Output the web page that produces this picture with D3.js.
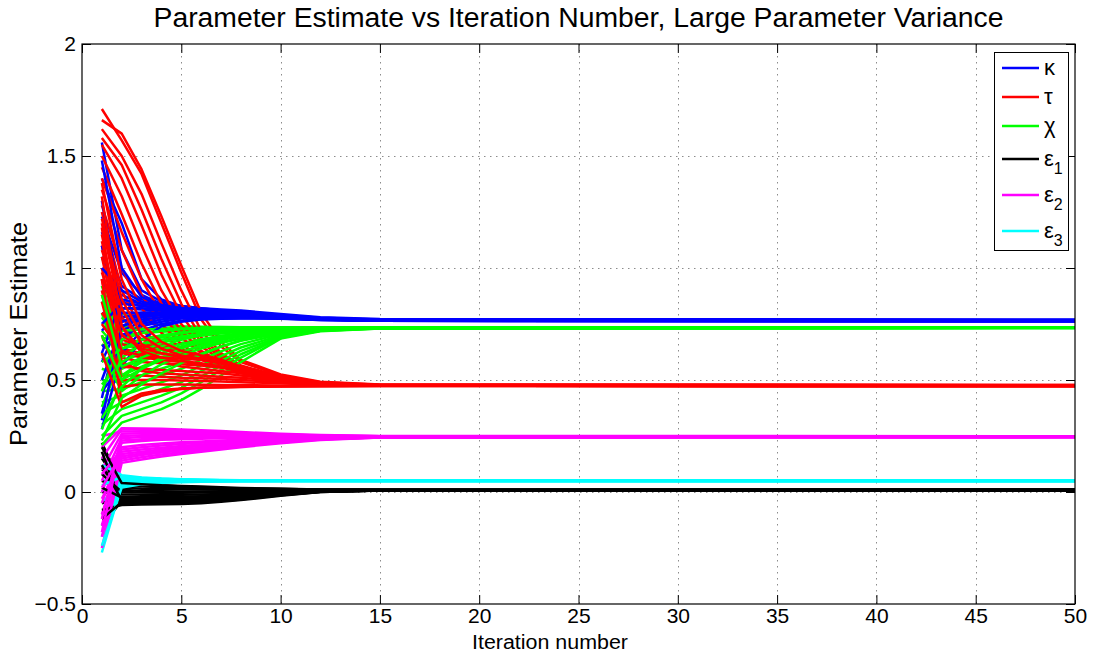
<!DOCTYPE html>
<html>
<head>
<meta charset="utf-8">
<script src="https://cdn.jsdelivr.net/npm/d3@7"></script>
<style>
  body { margin: 0; background: #fff; }
  svg text { font-family: "Liberation Sans", Arial, Helvetica, sans-serif; fill: #000; }
</style>
</head>
<body>
<svg id="chart" width="1102" height="655"></svg>
<script>
// Iterations at which each run's estimate is recorded (the estimate stays flat from 15 to 50).
const iterations = [1, 2, 3, 4, 5, 6, 7, 8, 10, 12, 15, 50];

// kappa estimates, one row per run
const kappaRuns = [
  [1.56, 1.08, 0.90, 0.85, 0.83, 0.82, 0.815, 0.81, 0.795, 0.78, 0.772, 0.770],
  [1.40, 1.20, 0.95, 0.86, 0.83, 0.82, 0.81, 0.805, 0.79, 0.778, 0.77, 0.768],
  [1.23, 0.98, 0.88, 0.84, 0.825, 0.815, 0.81, 0.80, 0.79, 0.776, 0.768, 0.767],
  [1.16, 0.92, 0.86, 0.835, 0.82, 0.81, 0.805, 0.80, 0.787, 0.775, 0.768, 0.766],
  [1.05, 0.85, 0.83, 0.82, 0.815, 0.81, 0.80, 0.795, 0.785, 0.774, 0.767, 0.766],
  [0.95, 0.78, 0.80, 0.805, 0.805, 0.80, 0.80, 0.795, 0.783, 0.773, 0.766, 0.765],
  [0.90, 0.88, 0.84, 0.825, 0.815, 0.81, 0.80, 0.795, 0.785, 0.774, 0.767, 0.765],
  [0.85, 0.72, 0.76, 0.78, 0.79, 0.79, 0.79, 0.788, 0.78, 0.772, 0.766, 0.765],
  [0.80, 0.76, 0.78, 0.79, 0.795, 0.795, 0.792, 0.79, 0.782, 0.772, 0.766, 0.764],
  [0.72, 0.82, 0.815, 0.81, 0.805, 0.80, 0.797, 0.793, 0.784, 0.773, 0.766, 0.764],
  [0.65, 0.70, 0.74, 0.76, 0.775, 0.78, 0.782, 0.782, 0.777, 0.770, 0.765, 0.764],
  [0.58, 0.78, 0.79, 0.79, 0.79, 0.79, 0.788, 0.786, 0.779, 0.771, 0.765, 0.763],
  [0.50, 0.74, 0.77, 0.78, 0.785, 0.785, 0.785, 0.784, 0.778, 0.770, 0.765, 0.763],
  [0.42, 0.80, 0.80, 0.80, 0.80, 0.798, 0.795, 0.79, 0.782, 0.772, 0.765, 0.763],
  [0.35, 0.68, 0.75, 0.77, 0.78, 0.782, 0.782, 0.781, 0.776, 0.769, 0.764, 0.762],
  [0.28, 0.62, 0.72, 0.75, 0.765, 0.772, 0.775, 0.776, 0.774, 0.768, 0.764, 0.762],
  [1.30, 0.82, 0.82, 0.815, 0.81, 0.805, 0.80, 0.797, 0.786, 0.775, 0.767, 0.766],
  [0.62, 0.86, 0.84, 0.83, 0.82, 0.815, 0.81, 0.80, 0.79, 0.776, 0.768, 0.766],
  [0.45, 0.56, 0.68, 0.74, 0.76, 0.77, 0.773, 0.775, 0.773, 0.768, 0.764, 0.762],
  [1.10, 0.76, 0.79, 0.80, 0.80, 0.80, 0.797, 0.793, 0.784, 0.774, 0.766, 0.764],
  [1.00, 0.90, 0.85, 0.83, 0.82, 0.812, 0.805, 0.80, 0.788, 0.775, 0.767, 0.766],
  [0.75, 0.84, 0.83, 0.822, 0.815, 0.808, 0.802, 0.797, 0.786, 0.774, 0.767, 0.765],
  [0.32, 0.74, 0.78, 0.79, 0.792, 0.792, 0.79, 0.787, 0.78, 0.771, 0.765, 0.763],
  [1.48, 1.00, 0.87, 0.835, 0.82, 0.812, 0.806, 0.80, 0.788, 0.776, 0.768, 0.766]
];

// tau estimates
const tauRuns = [
  [1.71, 1.57, 1.42, 1.20, 0.98, 0.77, 0.65, 0.58, 0.52, 0.49, 0.479, 0.478],
  [1.66, 1.60, 1.44, 1.23, 1.01, 0.80, 0.67, 0.59, 0.525, 0.492, 0.48, 0.478],
  [1.62, 1.50, 1.33, 1.11, 0.90, 0.72, 0.62, 0.565, 0.515, 0.488, 0.478, 0.477],
  [1.58, 1.46, 1.26, 1.04, 0.84, 0.69, 0.61, 0.56, 0.51, 0.486, 0.477, 0.476],
  [1.55, 1.40, 1.19, 0.97, 0.79, 0.67, 0.60, 0.555, 0.51, 0.485, 0.477, 0.476],
  [1.50, 1.32, 1.10, 0.90, 0.75, 0.65, 0.59, 0.55, 0.505, 0.484, 0.476, 0.475],
  [1.45, 1.24, 1.02, 0.84, 0.72, 0.63, 0.58, 0.545, 0.505, 0.483, 0.476, 0.475],
  [1.40, 1.16, 0.95, 0.79, 0.69, 0.62, 0.575, 0.54, 0.50, 0.482, 0.475, 0.474],
  [1.35, 1.08, 0.88, 0.75, 0.66, 0.60, 0.565, 0.535, 0.50, 0.481, 0.475, 0.474],
  [1.28, 1.00, 0.82, 0.71, 0.64, 0.59, 0.56, 0.53, 0.498, 0.48, 0.474, 0.474],
  [1.25, 0.90, 0.72, 0.66, 0.62, 0.60, 0.58, 0.55, 0.51, 0.485, 0.476, 0.475],
  [1.20, 0.78, 0.68, 0.65, 0.63, 0.61, 0.585, 0.555, 0.51, 0.485, 0.476, 0.475],
  [1.15, 0.70, 0.66, 0.645, 0.63, 0.615, 0.59, 0.56, 0.515, 0.487, 0.477, 0.476],
  [1.10, 0.66, 0.64, 0.635, 0.625, 0.61, 0.585, 0.555, 0.51, 0.485, 0.476, 0.475],
  [1.05, 0.64, 0.62, 0.615, 0.61, 0.60, 0.58, 0.55, 0.508, 0.484, 0.476, 0.475],
  [1.00, 0.60, 0.58, 0.575, 0.57, 0.565, 0.555, 0.54, 0.505, 0.483, 0.475, 0.474],
  [0.95, 0.56, 0.55, 0.545, 0.54, 0.535, 0.53, 0.52, 0.50, 0.481, 0.475, 0.474],
  [0.90, 0.52, 0.52, 0.515, 0.51, 0.508, 0.505, 0.50, 0.49, 0.479, 0.474, 0.473],
  [0.85, 0.50, 0.50, 0.50, 0.498, 0.495, 0.493, 0.49, 0.485, 0.478, 0.474, 0.473],
  [0.80, 0.68, 0.65, 0.64, 0.625, 0.61, 0.59, 0.56, 0.515, 0.487, 0.477, 0.476],
  [1.32, 0.74, 0.62, 0.58, 0.56, 0.55, 0.54, 0.53, 0.50, 0.482, 0.475, 0.474],
  [0.75, 0.62, 0.60, 0.59, 0.58, 0.57, 0.56, 0.545, 0.505, 0.483, 0.475, 0.474],
  [1.18, 0.58, 0.54, 0.53, 0.525, 0.52, 0.515, 0.51, 0.495, 0.48, 0.474, 0.473],
  [0.70, 0.47, 0.48, 0.48, 0.48, 0.479, 0.478, 0.477, 0.476, 0.475, 0.474, 0.473],
  [0.95, 0.40, 0.44, 0.455, 0.462, 0.466, 0.468, 0.47, 0.471, 0.472, 0.473, 0.473],
  [0.62, 0.38, 0.43, 0.45, 0.46, 0.465, 0.467, 0.469, 0.471, 0.472, 0.473, 0.472],
  [1.08, 0.82, 0.66, 0.62, 0.60, 0.59, 0.575, 0.55, 0.51, 0.485, 0.476, 0.475],
  [0.88, 0.63, 0.61, 0.60, 0.595, 0.59, 0.575, 0.55, 0.508, 0.484, 0.476, 0.475],
  [1.38, 0.95, 0.75, 0.67, 0.63, 0.61, 0.59, 0.56, 0.512, 0.486, 0.476, 0.475],
  [1.22, 0.86, 0.70, 0.64, 0.61, 0.595, 0.575, 0.55, 0.508, 0.484, 0.476, 0.475],
  [1.12, 0.74, 0.63, 0.60, 0.585, 0.575, 0.56, 0.54, 0.505, 0.483, 0.475, 0.474],
  [0.98, 0.70, 0.64, 0.62, 0.605, 0.595, 0.578, 0.555, 0.51, 0.485, 0.476, 0.475]
];

// chi estimates
const chiRuns = [
  [1.05, 0.80, 0.76, 0.745, 0.74, 0.738, 0.737, 0.736, 0.735, 0.735, 0.735, 0.735],
  [0.95, 0.74, 0.73, 0.73, 0.732, 0.733, 0.734, 0.734, 0.735, 0.735, 0.735, 0.735],
  [0.85, 0.70, 0.71, 0.715, 0.72, 0.724, 0.727, 0.729, 0.732, 0.734, 0.735, 0.734],
  [0.78, 0.66, 0.68, 0.695, 0.705, 0.713, 0.719, 0.723, 0.729, 0.732, 0.734, 0.734],
  [0.72, 0.62, 0.65, 0.67, 0.686, 0.698, 0.708, 0.715, 0.725, 0.731, 0.734, 0.734],
  [0.66, 0.58, 0.62, 0.645, 0.665, 0.682, 0.696, 0.706, 0.72, 0.729, 0.733, 0.734],
  [0.60, 0.55, 0.59, 0.62, 0.645, 0.665, 0.683, 0.697, 0.715, 0.727, 0.733, 0.733],
  [0.55, 0.52, 0.56, 0.595, 0.625, 0.65, 0.67, 0.687, 0.71, 0.725, 0.732, 0.733],
  [0.50, 0.49, 0.52, 0.55, 0.58, 0.615, 0.648, 0.675, 0.71, 0.727, 0.733, 0.733],
  [0.45, 0.46, 0.49, 0.52, 0.55, 0.59, 0.628, 0.66, 0.705, 0.725, 0.732, 0.733],
  [0.40, 0.43, 0.46, 0.49, 0.52, 0.565, 0.607, 0.645, 0.70, 0.724, 0.732, 0.733],
  [0.35, 0.40, 0.43, 0.46, 0.49, 0.54, 0.585, 0.63, 0.695, 0.722, 0.731, 0.733],
  [0.30, 0.37, 0.40, 0.43, 0.465, 0.515, 0.565, 0.615, 0.69, 0.72, 0.731, 0.732],
  [0.25, 0.34, 0.37, 0.40, 0.44, 0.49, 0.545, 0.60, 0.69, 0.72, 0.73, 0.732],
  [0.21, 0.31, 0.34, 0.37, 0.41, 0.46, 0.52, 0.58, 0.685, 0.718, 0.73, 0.732],
  [0.68, 0.72, 0.725, 0.728, 0.73, 0.732, 0.733, 0.734, 0.735, 0.736, 0.736, 0.736],
  [0.92, 0.64, 0.66, 0.68, 0.695, 0.705, 0.713, 0.72, 0.728, 0.732, 0.735, 0.735],
  [0.80, 0.52, 0.58, 0.62, 0.65, 0.672, 0.69, 0.703, 0.72, 0.73, 0.734, 0.735],
  [0.38, 0.60, 0.66, 0.69, 0.71, 0.72, 0.726, 0.73, 0.733, 0.735, 0.735, 0.735],
  [0.28, 0.50, 0.60, 0.65, 0.68, 0.70, 0.713, 0.722, 0.73, 0.734, 0.735, 0.735],
  [0.62, 0.45, 0.52, 0.57, 0.61, 0.64, 0.665, 0.685, 0.71, 0.727, 0.733, 0.734],
  [0.45, 0.68, 0.71, 0.72, 0.726, 0.73, 0.732, 0.733, 0.734, 0.735, 0.735, 0.735],
  [0.58, 0.64, 0.68, 0.70, 0.712, 0.72, 0.725, 0.728, 0.732, 0.734, 0.735, 0.735],
  [0.48, 0.58, 0.63, 0.665, 0.69, 0.705, 0.715, 0.722, 0.73, 0.733, 0.735, 0.735],
  [0.33, 0.47, 0.55, 0.60, 0.64, 0.67, 0.69, 0.705, 0.722, 0.731, 0.734, 0.735],
  [0.70, 0.50, 0.55, 0.59, 0.625, 0.655, 0.678, 0.695, 0.718, 0.729, 0.734, 0.734],
  [0.23, 0.42, 0.48, 0.53, 0.575, 0.615, 0.65, 0.677, 0.712, 0.727, 0.733, 0.734],
  [0.88, 0.56, 0.60, 0.635, 0.66, 0.68, 0.697, 0.71, 0.725, 0.732, 0.735, 0.735]
];

// epsilon_1 estimates
const eps1Runs = [
  [0.22, 0.03, 0.025, 0.022, 0.02, 0.018, 0.016, 0.015, 0.013, 0.011, 0.01, 0.01],
  [0.15, 0.02, 0.015, 0.013, 0.012, 0.011, 0.011, 0.011, 0.01, 0.01, 0.01, 0.01],
  [0.10, 0.068, 0.04, 0.03, 0.025, 0.021, 0.018, 0.016, 0.013, 0.011, 0.01, 0.01],
  [0.05, 0.01, 0.005, 0.003, 0.002, 0.002, 0.003, 0.004, 0.006, 0.008, 0.009, 0.009],
  [0.00, -0.01, -0.012, -0.012, -0.012, -0.011, -0.009, -0.007, -0.002, 0.004, 0.008, 0.009],
  [-0.05, -0.02, -0.022, -0.022, -0.021, -0.019, -0.016, -0.013, -0.005, 0.003, 0.008, 0.009],
  [-0.10, -0.03, -0.032, -0.032, -0.031, -0.029, -0.025, -0.02, -0.009, 0.002, 0.007, 0.008],
  [-0.15, -0.04, -0.042, -0.042, -0.041, -0.038, -0.033, -0.027, -0.012, 0.001, 0.007, 0.008],
  [0.18, -0.05, -0.05, -0.05, -0.049, -0.046, -0.04, -0.033, -0.015, 0.0, 0.007, 0.008],
  [-0.08, -0.058, -0.056, -0.055, -0.054, -0.05, -0.044, -0.036, -0.017, 0.0, 0.007, 0.008],
  [0.08, 0.0, -0.002, -0.003, -0.003, -0.002, -0.001, 0.0, 0.004, 0.007, 0.009, 0.009],
  [-0.12, -0.045, -0.046, -0.046, -0.045, -0.042, -0.036, -0.03, -0.013, 0.001, 0.007, 0.008],
  [0.12, -0.035, -0.037, -0.037, -0.036, -0.034, -0.03, -0.025, -0.01, 0.002, 0.008, 0.009],
  [0.02, -0.025, -0.027, -0.027, -0.026, -0.024, -0.021, -0.017, -0.007, 0.003, 0.008, 0.009],
  [0.20, 0.04, 0.035, 0.03, 0.027, 0.024, 0.021, 0.018, 0.014, 0.011, 0.01, 0.01]
];

// epsilon_2 estimates
const eps2Runs = [
  [0.20, 0.285, 0.284, 0.282, 0.279, 0.276, 0.272, 0.268, 0.26, 0.254, 0.25, 0.249],
  [0.15, 0.28, 0.278, 0.275, 0.272, 0.269, 0.266, 0.263, 0.257, 0.252, 0.249, 0.248],
  [0.10, 0.26, 0.262, 0.262, 0.261, 0.26, 0.258, 0.256, 0.253, 0.25, 0.248, 0.248],
  [0.05, 0.24, 0.245, 0.247, 0.248, 0.248, 0.248, 0.248, 0.248, 0.248, 0.248, 0.248],
  [0.00, 0.22, 0.228, 0.233, 0.236, 0.238, 0.24, 0.241, 0.243, 0.245, 0.247, 0.247],
  [-0.05, 0.20, 0.21, 0.217, 0.222, 0.226, 0.23, 0.233, 0.238, 0.242, 0.246, 0.247],
  [-0.10, 0.18, 0.19, 0.198, 0.205, 0.212, 0.218, 0.223, 0.232, 0.239, 0.245, 0.246],
  [-0.15, 0.16, 0.172, 0.182, 0.19, 0.198, 0.206, 0.213, 0.226, 0.236, 0.244, 0.246],
  [-0.20, 0.14, 0.155, 0.167, 0.177, 0.187, 0.196, 0.205, 0.221, 0.234, 0.243, 0.245],
  [-0.25, 0.13, 0.145, 0.158, 0.17, 0.18, 0.19, 0.20, 0.218, 0.232, 0.243, 0.245],
  [0.25, 0.27, 0.27, 0.268, 0.266, 0.264, 0.262, 0.26, 0.256, 0.252, 0.249, 0.248],
  [-0.03, 0.15, 0.165, 0.176, 0.185, 0.193, 0.201, 0.209, 0.223, 0.235, 0.244, 0.246],
  [0.08, 0.19, 0.20, 0.208, 0.214, 0.22, 0.225, 0.229, 0.236, 0.241, 0.245, 0.246],
  [-0.18, 0.23, 0.236, 0.24, 0.242, 0.243, 0.244, 0.245, 0.246, 0.247, 0.247, 0.247],
  [0.02, 0.17, 0.18, 0.19, 0.198, 0.205, 0.212, 0.218, 0.229, 0.238, 0.244, 0.246],
  [-0.12, 0.25, 0.253, 0.254, 0.254, 0.254, 0.253, 0.252, 0.25, 0.249, 0.248, 0.247]
];

// epsilon_3 estimates
const eps3Runs = [
  [0.15, 0.07, 0.062, 0.058, 0.056, 0.054, 0.053, 0.052, 0.051, 0.05, 0.05, 0.05],
  [0.10, 0.065, 0.06, 0.057, 0.055, 0.054, 0.053, 0.052, 0.051, 0.05, 0.05, 0.05],
  [0.05, 0.06, 0.058, 0.056, 0.054, 0.053, 0.052, 0.051, 0.05, 0.05, 0.05, 0.05],
  [0.00, 0.055, 0.055, 0.054, 0.053, 0.052, 0.051, 0.051, 0.05, 0.05, 0.05, 0.049],
  [-0.05, 0.05, 0.052, 0.052, 0.052, 0.051, 0.051, 0.05, 0.05, 0.05, 0.049, 0.049],
  [-0.10, 0.045, 0.048, 0.049, 0.05, 0.05, 0.05, 0.05, 0.05, 0.049, 0.049, 0.049],
  [-0.15, 0.04, 0.045, 0.047, 0.048, 0.049, 0.049, 0.049, 0.049, 0.049, 0.049, 0.049],
  [-0.20, 0.035, 0.042, 0.045, 0.047, 0.048, 0.048, 0.049, 0.049, 0.049, 0.049, 0.049],
  [-0.27, 0.03, 0.04, 0.044, 0.046, 0.047, 0.048, 0.048, 0.049, 0.049, 0.049, 0.049],
  [0.12, 0.075, 0.065, 0.06, 0.057, 0.055, 0.054, 0.053, 0.052, 0.051, 0.05, 0.05],
  [-0.24, 0.02, 0.035, 0.041, 0.044, 0.046, 0.047, 0.048, 0.048, 0.049, 0.049, 0.049],
  [0.03, 0.068, 0.063, 0.059, 0.056, 0.054, 0.053, 0.052, 0.051, 0.05, 0.05, 0.05]
];

const seriesNames = ["κ", "τ", "χ", "ε", "ε", "ε"];
const seriesSubscripts = ["", "", "", "1", "2", "3"];
const seriesColors = ["#0000ff", "#ff0000", "#00ff00", "#000000", "#ff00ff", "#00ffff"];
const seriesRuns = [kappaRuns, tauRuns, chiRuns, eps1Runs, eps2Runs, eps3Runs];

const xTickValues = [0, 5, 10, 15, 20, 25, 30, 35, 40, 45, 50];
const yTickValues = [-0.5, 0, 0.5, 1, 1.5, 2];
const yTickLabels = ["\u22120.5", "0", "0.5", "1", "1.5", "2"];

const titleText = "Parameter Estimate vs Iteration Number, Large Parameter Variance";
const xLabelText = "Iteration number";
const yLabelText = "Parameter Estimate";

// ---- layout ----
const W = 1102, H = 655;
const plot = { left: 82, right: 1075, top: 44, bottom: 604 };

const svg = d3.select("#chart");
svg.append("rect").attr("width", W).attr("height", H).attr("fill", "#fff");

const x = d3.scaleLinear().domain([0, 50]).range([plot.left, plot.right]);
const y = d3.scaleLinear().domain([-0.5, 2]).range([plot.bottom, plot.top]);

// dotted grid
const grid = svg.append("g").attr("stroke", "#8c8c8c").attr("stroke-width", 1)
  .attr("stroke-dasharray", "1.5,4.5");
grid.selectAll("line.gx").data(xTickValues.slice(1, -1)).join("line")
  .attr("x1", d => Math.round(x(d)) + 0.5).attr("x2", d => Math.round(x(d)) + 0.5)
  .attr("y1", plot.top).attr("y2", plot.bottom);
grid.selectAll("line.gy").data(yTickValues.slice(1, -1)).join("line")
  .attr("y1", d => Math.round(y(d)) + 0.5).attr("y2", d => Math.round(y(d)) + 0.5)
  .attr("x1", plot.left).attr("x2", plot.right);

// trajectories, drawn run by run so the colours interleave
const line = d3.line().x(d => x(d[0])).y(d => y(d[1]));
const traces = [];
const maxRuns = d3.max(seriesRuns, r => r.length);
for (let i = 0; i < maxRuns; i++) {
  seriesRuns.forEach((runs, s) => {
    if (i < runs.length) traces.push({ s, pts: iterations.map((it, k) => [it, runs[i][k]]) });
  });
}
svg.append("g")
  .selectAll("path").data(traces).join("path")
  .attr("d", d => line(d.pts))
  .attr("fill", "none")
  .attr("stroke", d => seriesColors[d.s])
  .attr("stroke-width", 2.5)
  .attr("stroke-linejoin", "round");

// axes box and ticks
svg.append("rect")
  .attr("x", plot.left).attr("y", plot.top)
  .attr("width", plot.right - plot.left).attr("height", plot.bottom - plot.top)
  .attr("fill", "none").attr("stroke", "#000").attr("stroke-width", 1.2);

const tickLen = 9;
const xAxisB = d3.axisBottom(x).tickValues(xTickValues).tickSizeInner(-tickLen).tickSizeOuter(0).tickPadding(4);
const xAxisT = d3.axisTop(x).tickValues(xTickValues).tickSizeInner(-tickLen).tickSizeOuter(0).tickFormat("");
const yAxisL = d3.axisLeft(y).tickValues(yTickValues).tickSizeInner(-tickLen).tickSizeOuter(0).tickPadding(6)
  .tickFormat((d, i) => yTickLabels[i]);
const yAxisR = d3.axisRight(y).tickValues(yTickValues).tickSizeInner(-tickLen).tickSizeOuter(0).tickFormat("");

function styleAxis(g) {
  g.select(".domain").remove();
  g.selectAll(".tick line").attr("stroke", "#000").attr("stroke-width", 1);
  g.selectAll(".tick text").attr("font-size", 21).attr("fill", "#000")
    .attr("font-family", "'Liberation Sans', Arial, sans-serif");
}
svg.append("g").attr("transform", `translate(0,${plot.bottom})`).call(xAxisB).call(styleAxis);
svg.append("g").attr("transform", `translate(0,${plot.top})`).call(xAxisT).call(styleAxis);
svg.append("g").attr("transform", `translate(${plot.left},0)`).call(yAxisL).call(styleAxis);
svg.append("g").attr("transform", `translate(${plot.right},0)`).call(yAxisR).call(styleAxis);

// title and axis labels
svg.append("text").attr("x", (plot.left + plot.right) / 2).attr("y", 27)
  .attr("text-anchor", "middle").attr("font-size", 27)
  .attr("textLength", 850).attr("lengthAdjust", "spacingAndGlyphs").text(titleText);
svg.append("text").attr("x", 550).attr("y", 649)
  .attr("text-anchor", "middle").attr("font-size", 20)
  .attr("textLength", 156).attr("lengthAdjust", "spacingAndGlyphs").text(xLabelText);
svg.append("text").attr("transform", `translate(27,334) rotate(-90)`)
  .attr("text-anchor", "middle").attr("font-size", 24)
  .attr("textLength", 224).attr("lengthAdjust", "spacingAndGlyphs").text(yLabelText);

// legend
const legend = { x: 994, y: 52, w: 74, h: 198 };
const legendRowY = [68, 97, 126, 159, 195, 231];
const lg = svg.append("g");
lg.append("rect").attr("x", legend.x + 0.5).attr("y", legend.y + 0.5)
  .attr("width", legend.w).attr("height", legend.h)
  .attr("fill", "#fff").attr("stroke", "#000").attr("stroke-width", 1);
seriesNames.forEach((name, i) => {
  const cy = legendRowY[i];
  lg.append("line").attr("x1", 1002).attr("x2", 1039).attr("y1", cy).attr("y2", cy)
    .attr("stroke", seriesColors[i]).attr("stroke-width", 2.5);
  const t = lg.append("text").attr("x", 1044).attr("y", cy + 7).attr("font-size", 22);
  t.append("tspan").text(name);
  if (seriesSubscripts[i]) {
    t.append("tspan").attr("font-size", 16).attr("dy", 8).text(seriesSubscripts[i]);
  }
});
</script>
</body>
</html>
